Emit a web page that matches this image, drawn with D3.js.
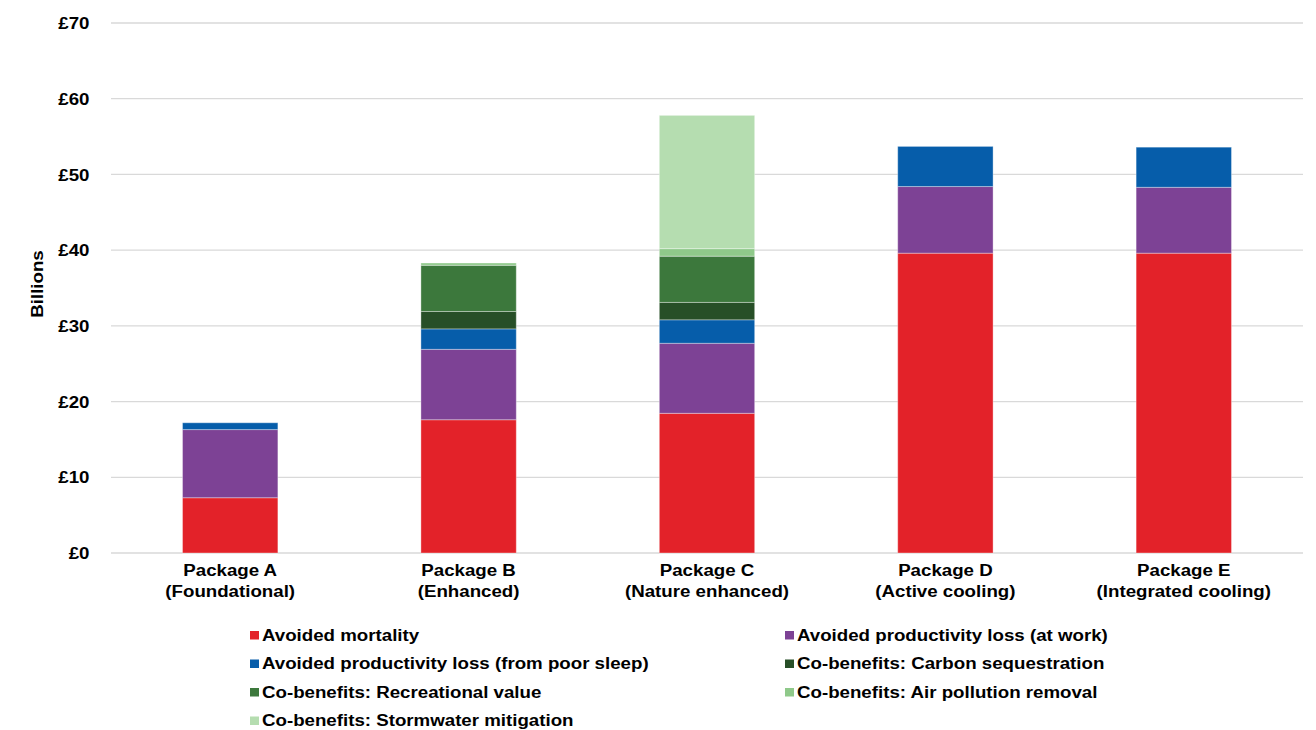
<!DOCTYPE html>
<html><head><meta charset="utf-8">
<script src="https://cdn.jsdelivr.net/npm/d3@7"></script>
<style>body{margin:0;background:#fff;} svg{display:block;font-family:"Liberation Sans",Arial,sans-serif;}</style>
</head><body><svg id="c" width="1316" height="730"></svg>
<script>
const categories = [["Package A","(Foundational)"],["Package B","(Enhanced)"],["Package C","(Nature enhanced)"],["Package D","(Active cooling)"],["Package E","(Integrated cooling)"]];
const seriesNames = ["Avoided mortality","Avoided productivity loss (at work)","Avoided productivity loss (from poor sleep)","Co-benefits: Carbon sequestration","Co-benefits: Recreational value","Co-benefits: Air pollution removal","Co-benefits: Stormwater mitigation"];
const colors = ["#E32229","#7D4295","#065DAA","#274F27","#3C783C","#8FC98A","#B5DDB0"];
const mortality    = [7.3, 17.6, 18.45, 39.6, 39.6];
const workLoss     = [9.0, 9.3, 9.25, 8.8, 8.7];
const sleepLoss    = [0.9, 2.7, 3.1, 5.3, 5.3];
const carbon       = [0, 2.3, 2.3, 0, 0];
const recreational = [0, 6.1, 6.1, 0, 0];
const airPollution = [0, 0.3, 1.0, 0, 0];
const stormwater   = [0, 0, 17.6, 0, 0];
const yTicks = [0,10,20,30,40,50,60,70];

const seriesValues = [mortality, workLoss, sleepLoss, carbon, recreational, airPollution, stormwater];
const data = categories.map((c,i)=>{const o={cat:c[0]}; seriesNames.forEach((s,j)=>o[s]=seriesValues[j][i]); return o;});

const FS = 17, SX = 1.1;
const svg = d3.select("#c");
const m = {l:111, r:1303, t:23, b:553};
const x = d3.scaleBand().domain(categories.map(c=>c[0])).range([m.l, m.r]).paddingInner(0.6).paddingOuter(0.3);
const y = d3.scaleLinear().domain([0,70]).range([m.b, m.t]);

// grid
svg.append("g").selectAll("line").data(yTicks).join("line")
  .attr("x1", m.l).attr("x2", m.r).attr("y1", d=>y(d)).attr("y2", d=>y(d))
  .attr("stroke", "#d9d9d9").attr("stroke-width", 1.3);

// y axis labels
const yAxis = d3.axisLeft(y).tickValues(yTicks).tickSize(0).tickPadding(0).tickFormat(d=>"£"+d);
const ya = svg.append("g").attr("transform", `translate(${89.5},0)`).call(yAxis);
ya.select(".domain").remove();
ya.selectAll("text").attr("font-size", FS).attr("font-weight", "bold").attr("fill", "#000")
  .attr("font-family","'Liberation Sans',Arial,sans-serif").attr("dy","0.33em")
  .attr("transform", `scale(${SX},1)`);

svg.append("text").attr("transform", `translate(43,${284}) rotate(-90) scale(${SX},1)`).attr("text-anchor","middle")
  .attr("font-size", FS).attr("font-weight","bold").text("Billions");

// bars
const stack = d3.stack().keys(seriesNames)(data);
svg.append("g").selectAll("g").data(stack).join("g").attr("fill",(d,i)=>colors[i])
  .selectAll("rect").data(d=>d.filter(p=>p[1]-p[0]>0)).join("rect")
  .attr("x", d=>x(d.data.cat)).attr("width", x.bandwidth())
  .attr("y", d=>y(d[1])).attr("height", d=>y(d[0])-y(d[1]))
  .attr("stroke","#ffffff").attr("stroke-opacity",0.35).attr("stroke-width",1);

// x labels
const xg = svg.append("g").selectAll("g").data(categories).join("g")
  .attr("transform", d=>`translate(${x(d[0])+x.bandwidth()/2},0) scale(${SX},1)`);
xg.append("text").attr("text-anchor","middle").attr("font-size", FS).attr("font-weight","bold").attr("y", 576.5).text(d=>d[0]);
xg.append("text").attr("text-anchor","middle").attr("font-size", FS).attr("font-weight","bold").attr("y", 597).text(d=>d[1]);

// legend
const lg = svg.append("g");
seriesNames.forEach((s,i)=>{
  const col = i%2, row = Math.floor(i/2);
  const lx = col===0 ? 250 : 785, ly = 640.5 + row*28.5;
  lg.append("rect").attr("x", lx).attr("y", ly-9.5).attr("width", 9).attr("height", 8.5).attr("fill", colors[i]);
  lg.append("text").attr("transform", `translate(${lx+12},${ly}) scale(${SX},1)`)
    .attr("font-size", FS).attr("font-weight","bold").text(s);
});
</script></body></html>
